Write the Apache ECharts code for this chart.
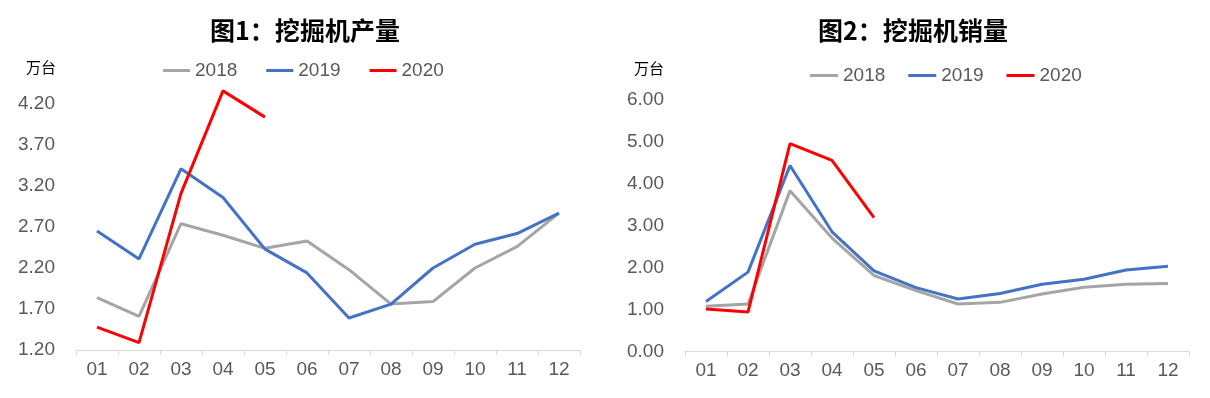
<!DOCTYPE html>
<html><head><meta charset="utf-8">
<script src="https://cdn.jsdelivr.net/npm/echarts@6/dist/echarts.min.js"></script>
<style>html,body{margin:0;padding:0;background:#fff}#c{width:1210px;height:398px}</style>
</head><body><div id="c"></div>
<script>
const months = ['01','02','03','04','05','06','07','08','09','10','11','12'];
const seriesNames = ['2018','2019','2020'];
// 图1 挖掘机产量 (万台)
const prod2018 = [1.84,1.61,2.74,2.60,2.44,2.53,2.18,1.76,1.79,2.20,2.46,2.87];
const prod2019 = [2.65,2.31,3.41,3.06,2.43,2.14,1.59,1.76,2.20,2.49,2.62,2.87];
const prod2020 = [1.48,1.29,3.11,4.36,4.04];
const prodTicks = [1.2,1.7,2.2,2.7,3.2,3.7,4.2];
// 图2 挖掘机销量 (万台)
const sales2018 = [1.08,1.13,3.83,2.70,1.81,1.45,1.13,1.17,1.37,1.53,1.60,1.62];
const sales2019 = [1.19,1.89,4.43,2.85,1.92,1.52,1.25,1.38,1.60,1.72,1.94,2.03];
const sales2020 = [1.01,0.94,4.95,4.55,3.19];
const salesTicks = [0,1,2,3,4,5,6];

const colors = ['#A5A5A5','#4472C4','#FF0000'];
const font = 'Liberation Sans, Arial, sans-serif';
const cjk = 'Noto Sans CJK SC, sans-serif';
const labelColor = '#595959';

function xAxis(gi){
  return {type:'category', gridIndex:gi, data:months, boundaryGap:true,
    axisLine:{lineStyle:{color:'#D9D9D9',width:1}},
    axisTick:{show:true,length:5,lineStyle:{color:'#D9D9D9'}},
    axisLabel:{color:labelColor,fontSize:19,fontFamily:font,margin:10}};
}
function yAxis(gi,min,max,ticks){
  return {type:'value', gridIndex:gi, min:min, max:max,
    axisLine:{show:false}, axisTick:{show:false}, splitLine:{show:false},
    axisLabel:{color:labelColor,fontSize:19,fontFamily:font,margin:21,
      customValues:ticks, formatter:v=>v.toFixed(2)}};
}
function line(name,data,gi){
  const i = seriesNames.indexOf(name);
  return {name:name,type:'line',xAxisIndex:gi,yAxisIndex:gi,data:data,
    symbol:'none',lineStyle:{width:3,color:colors[i]},itemStyle:{color:colors[i]},
    animation:false};
}
const chart = echarts.init(document.getElementById('c'));
chart.setOption({
  animation:false,
  color:colors,
  title:[
    {text:'图1：挖掘机产量',left:300,top:13,textAlign:'center',
      textStyle:{fontFamily:cjk,fontSize:25,fontWeight:'bold',color:'#000',letterSpacing:1}},
    {text:'图2：挖掘机销量',left:908,top:13,textAlign:'center',
      textStyle:{fontFamily:cjk,fontSize:25,fontWeight:'bold',color:'#000',letterSpacing:1}}
  ],
  legend:[
    {data:seriesNames,left:158,top:56,itemWidth:27,itemHeight:3,itemGap:29,icon:'rect',
      textStyle:{color:labelColor,fontSize:19,fontFamily:font}},
    {data:seriesNames,left:805,top:61,itemWidth:28,itemHeight:3,itemGap:23,icon:'rect',
      textStyle:{color:labelColor,fontSize:19,fontFamily:font}}
  ],
  graphic:[
    {type:'text',left:26,top:60,style:{text:'万台',fontSize:15,fontFamily:cjk,fill:'#000',letterSpacing:2}},
    {type:'text',left:634,top:61,style:{text:'万台',fontSize:15,fontFamily:cjk,fill:'#000',letterSpacing:2}}
  ],
  grid:[
    {left:76,width:504,top:87.6,height:262.4},
    {left:685,width:504,top:99.5,height:252}
  ],
  xAxis:[xAxis(0),xAxis(1)],
  yAxis:[yAxis(0,1.2,4.4,prodTicks),yAxis(1,0,6,salesTicks)],
  series:[
    line('2018',prod2018,0),line('2019',prod2019,0),line('2020',prod2020,0),
    line('2018',sales2018,1),line('2019',sales2019,1),line('2020',sales2020,1)
  ]
});
</script></body></html>
